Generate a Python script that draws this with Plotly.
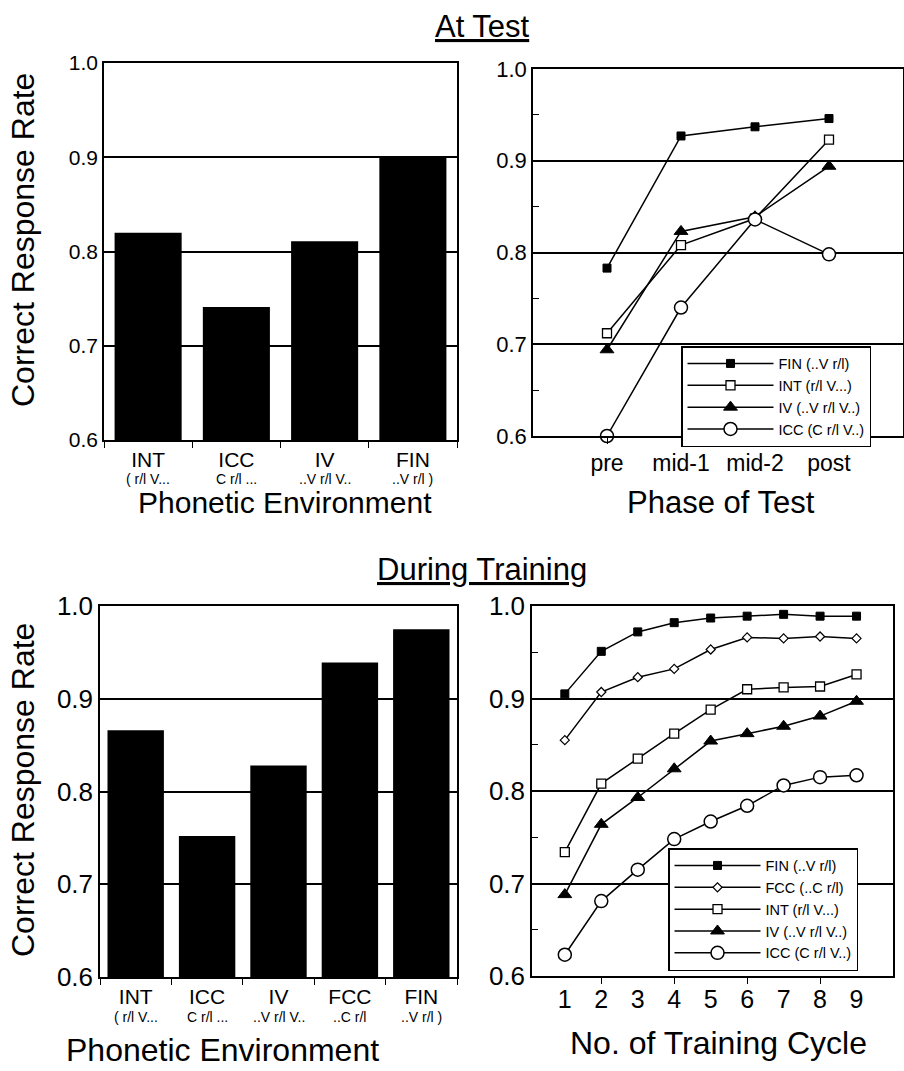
import plotly.graph_objects as go

# ---------------- data ----------------
test_env = ["INT", "ICC", "IV", "FIN"]
test_env_sub = ["( r/l V...", "C r/l ...", "..V r/l V..", "..V r/l )"]
test_rate = [0.820, 0.741, 0.811, 0.900]

phases = ["pre", "mid-1", "mid-2", "post"]
phase_fin = [0.783, 0.927, 0.937, 0.946]
phase_int = [0.712, 0.808, 0.837, 0.923]
phase_iv = [0.694, 0.823, 0.839, 0.894]
phase_icc = [0.600, 0.740, 0.836, 0.798]

train_env = ["INT", "ICC", "IV", "FCC", "FIN"]
train_env_sub = ["( r/l V...", "C r/l ...", "..V r/l V..", "..C r/l", "..V r/l )"]
train_rate = [0.866, 0.752, 0.828, 0.939, 0.975]

cycles = [1, 2, 3, 4, 5, 6, 7, 8, 9]
train_fin = [0.905, 0.951, 0.972, 0.982, 0.987, 0.989, 0.991, 0.989, 0.989]
train_fcc = [0.855, 0.907, 0.923, 0.932, 0.953, 0.966, 0.965, 0.967, 0.965]
train_int = [0.734, 0.808, 0.835, 0.862, 0.888, 0.910, 0.912, 0.913, 0.926]
train_iv = [0.688, 0.764, 0.793, 0.824, 0.854, 0.862, 0.870, 0.881, 0.897]
train_icc = [0.623, 0.681, 0.715, 0.748, 0.767, 0.784, 0.806, 0.815, 0.817]

y_ticks = [0.6, 0.7, 0.8, 0.9, 1.0]
y_ticklabels = ["0.6", "0.7", "0.8", "0.9", "1.0"]

# ---------------- styles ----------------
FONT = "Liberation Sans"
W, H = 904, 1071

def px_x(p):
    return p / W

def px_y(p):
    return 1 - p / H

styles = {
    "FIN": dict(symbol="square", size=8, color="black", line=dict(color="black", width=1)),
    "FCC": dict(symbol="diamond", size=7, color="white", line=dict(color="black", width=1.2)),
    "INT": dict(symbol="square", size=9, color="white", line=dict(color="black", width=1.3)),
    "IV": dict(symbol="triangle-up", size=12, color="black", line=dict(color="black", width=1)),
    "ICC": dict(symbol="circle", size=13, color="white", line=dict(color="black", width=1.5)),
}

fig = go.Figure()

# Top-left bars
fig.add_trace(go.Bar(x=test_env, y=test_rate, marker=dict(color="black", line=dict(width=0)),
                     width=0.76, xaxis="x", yaxis="y", showlegend=False))
# Bottom-left bars
fig.add_trace(go.Bar(x=train_env, y=train_rate, marker=dict(color="black", line=dict(width=0)),
                     width=0.79, xaxis="x3", yaxis="y3", showlegend=False))

# Top-right lines
for name, vals, lab in [("FIN", phase_fin, "FIN (..V r/l)"),
                        ("INT", phase_int, "INT (r/l V...)"),
                        ("IV", phase_iv, "IV (..V r/l V..)"),
                        ("ICC", phase_icc, "ICC (C r/l V..)")]:
    fig.add_trace(go.Scatter(x=phases, y=vals, mode="lines+markers", name=lab,
                             line=dict(color="black", width=1.5), marker=styles[name],
                             xaxis="x2", yaxis="y2", legend="legend", cliponaxis=False))

# Bottom-right lines
for name, vals, lab in [("FIN", train_fin, "FIN (..V r/l)"),
                        ("FCC", train_fcc, "FCC (..C r/l)"),
                        ("INT", train_int, "INT (r/l V...)"),
                        ("IV", train_iv, "IV (..V r/l V..)"),
                        ("ICC", train_icc, "ICC (C r/l V..)")]:
    fig.add_trace(go.Scatter(x=cycles, y=vals, mode="lines+markers", name=lab,
                             line=dict(color="black", width=1.5), marker=styles[name],
                             xaxis="x4", yaxis="y4", legend="legend2", cliponaxis=False))

frame = dict(showline=True, linecolor="black", linewidth=1.5, mirror=True, zeroline=False,
             automargin=False)

def yax(domain, anchor, size, minor=False):
    d = dict(domain=domain, anchor=anchor, range=[0.6, 1.0], tickmode="array",
             tickvals=y_ticks, ticktext=y_ticklabels, showgrid=True, gridcolor="black",
             gridwidth=1.5, ticks="", tickfont=dict(family=FONT, size=size, color="black"),
             **frame)
    if minor:
        d["minor"] = dict(tickmode="array", tickvals=[0.65, 0.75, 0.85, 0.95], ticks="inside",
                          ticklen=6, tickcolor="black", tickwidth=1.2, showgrid=False)
    return d

legend_common = dict(xanchor="left", bgcolor="white", bordercolor="black", borderwidth=1.5,
                     font=dict(family=FONT, size=14.5, color="black"), itemwidth=86,
                     tracegroupgap=0)

fig.update_layout(
    width=W, height=H, margin=dict(l=0, r=0, t=0, b=0, pad=0, autoexpand=False),
    paper_bgcolor="white", plot_bgcolor="white", bargap=0.2,
    font=dict(family=FONT, color="black"),
    xaxis=dict(domain=[px_x(104), px_x(457)], anchor="y", type="category",
               range=[-0.5, 3.5], tickson="boundaries", ticks="outside", ticklen=6,
               tickwidth=1.2, tickcolor="black", showgrid=False,
               tickfont=dict(family=FONT, size=21, color="black"), **frame),
    yaxis=yax([px_y(440), px_y(63)], "x", 21),
    xaxis2=dict(domain=[px_x(533), px_x(903)], anchor="y2", type="category",
                range=[-1, 4], ticks="outside", ticklen=6, tickwidth=1.2, tickcolor="black",
                showgrid=False, tickfont=dict(family=FONT, size=23, color="black"), **frame),
    yaxis2=yax([px_y(436), px_y(69)], "x2", 22, minor=True),
    xaxis3=dict(domain=[px_x(100), px_x(457)], anchor="y3", type="category",
                range=[-0.5, 4.5], tickson="boundaries", ticks="outside", ticklen=6,
                tickwidth=1.2, tickcolor="black", showgrid=False,
                tickfont=dict(family=FONT, size=21, color="black"), **frame),
    yaxis3=yax([px_y(977), px_y(606)], "x3", 26),
    xaxis4=dict(domain=[px_x(532), px_x(893)], anchor="y4", range=[0.1, 10.0],
                tickmode="array", tickvals=cycles, ticks="", showgrid=False,
                tickfont=dict(family=FONT, size=25, color="black"),
                minor=dict(tickmode="array", tickvals=[2, 4, 6, 8], ticks="outside",
                           ticklen=6, tickcolor="black", tickwidth=1.2, showgrid=False),
                **frame),
    yaxis4=yax([px_y(976), px_y(606)], "x4", 26, minor=True),
    legend=dict(x=px_x(681), y=px_y(346), yanchor="top", **legend_common),
    legend2=dict(x=px_x(668), y=px_y(971), yanchor="bottom", **legend_common),
)

ann = []
def txt(text, x, y, size, **kw):
    d = dict(text=text, x=x, y=y, xref="paper", yref="paper", showarrow=False,
             xanchor="center", yanchor="middle",
             font=dict(size=size, family=FONT, color="black"))
    d.update(kw)
    ann.append(d)

# Section titles
txt("<u>At Test</u>", px_x(482), px_y(26), 31)
txt("<u>During Training</u>", px_x(482), px_y(569), 31)
# Y titles
txt("Correct Response Rate", px_x(23), px_y(240), 32, textangle=-90)
txt("Correct Response Rate", px_x(23), px_y(790), 32, textangle=-90)
# X titles
txt("Phonetic Environment", px_x(285), px_y(502), 30)
txt("Phase of Test", px_x(721), px_y(502), 31)
txt("Phonetic Environment", px_x(222), px_y(1050), 32)
txt("No. of Training Cycle", px_x(718), px_y(1043), 32)

# Sub-labels under categories
for cat, sub in zip(test_env, test_env_sub):
    ann.append(dict(text=sub, x=cat, y=px_y(479), xref="x", yref="paper", showarrow=False,
                    xanchor="center", yanchor="middle",
                    font=dict(size=14, family=FONT, color="black")))
for cat, sub in zip(train_env, train_env_sub):
    ann.append(dict(text=sub, x=cat, y=px_y(1017), xref="x3", yref="paper", showarrow=False,
                    xanchor="center", yanchor="middle",
                    font=dict(size=14, family=FONT, color="black")))
fig.update_layout(annotations=ann)

fig.write_html("out.html")
